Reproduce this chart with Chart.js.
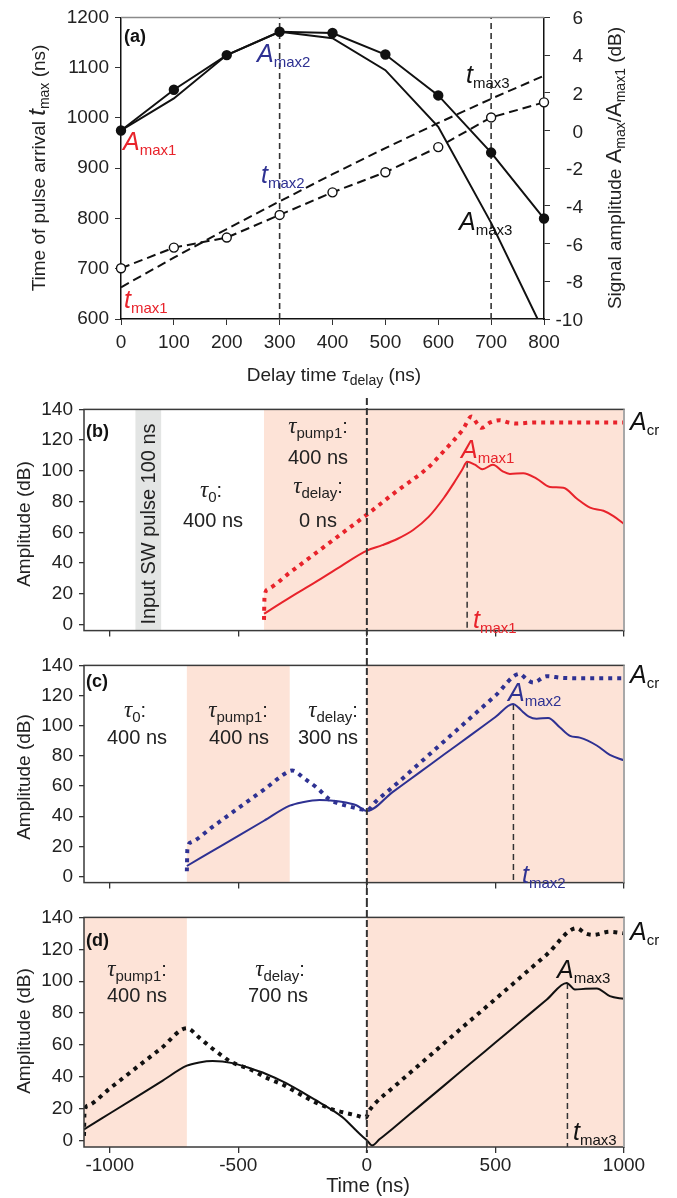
<!DOCTYPE html>
<html>
<head>
<meta charset="utf-8">
<script src="https://cdn.jsdelivr.net/npm/chart.js@4.4.0/dist/chart.umd.min.js"></script>
<style>
  body { margin: 0; background: #fff; width: 677px; height: 1198px; position: relative; overflow: hidden; }
  canvas { position: absolute; left: 0; }
</style>
</head>
<body>
<canvas id="chartA" style="top:0px" width="677" height="392"></canvas>
<canvas id="chartB" style="top:392px" width="677" height="256"></canvas>
<canvas id="chartC" style="top:648px" width="677" height="252"></canvas>
<canvas id="chartD" style="top:900px" width="677" height="298"></canvas>
<script>
// ---- panel (a): delay sweep ----
const delayNs = [0, 100, 200, 300, 400, 500, 600, 700, 800];
const tmaxMeasured = [701, 742, 762, 807, 852, 892, 942, 1001, 1031];
const tmaxFit = [663, 722, 779, 834, 888, 940, 990, 1038, 1084];
const ampMeasured = [0, 2.16, 4.0, 5.24, 5.17, 4.03, 1.86, -1.17, -4.67];
const ampSimulated = [0, 1.7, 4.0, 5.24, 4.9, 3.2, 0.2, -4.9, -10.7];
const delayMarks = [300, 700];
const delayTicks = [0, 100, 200, 300, 400, 500, 600, 700, 800];
const tmaxTicks = [600, 700, 800, 900, 1000, 1100, 1200];
const ratioTicks = [-10, -8, -6, -4, -2, 0, 2, 4, 6];

// ---- panels (b)-(d): time traces ----
const timeTicks = [-1000, -500, 0, 500, 1000];
const ampTicks = [0, 20, 40, 60, 80, 100, 120, 140];

const tSolidB = [-400, -300, -200, -100, 0, 60, 120, 180, 240, 300, 340, 370, 390, 420, 450, 490, 530, 556, 608, 660, 712, 764, 816, 868, 920, 959, 1000];
const aSolidB = [7, 17.5, 27.5, 38, 48, 51.6, 55.8, 61.5, 70, 82.5, 92.5, 100.5, 106, 104, 101, 104, 99.5, 98, 98.5, 95, 89.5, 89, 82, 76, 74, 70.5, 65.5];
const tDotB = [-400, -398, -385, -300, -200, -100, 0, 114, 244, 300, 374, 407, 428, 446, 480, 517, 550, 582, 650, 750, 850, 1000];
const aDotB = [3, 18, 23, 33.7, 46.3, 58.9, 71.5, 86.5, 103, 113, 127, 135.4, 131, 128, 131.5, 133, 131.5, 130.8, 131.5, 131.5, 131.5, 131.5];

const tSolidC = [-700, -600, -500, -400, -300, -250, -184, -150, -106, -41, 0, 100, 200, 300, 400, 500, 569, 590, 608, 630, 660, 705, 750, 790, 828, 894, 945, 1000];
const aSolidC = [7, 17, 27, 37, 47, 49.3, 50.8, 50.5, 49.8, 47.3, 43.5, 56, 68.4, 80.9, 93.3, 105.8, 114.4, 112, 109, 106, 104.6, 105.2, 99, 93.3, 92.1, 86.9, 80.6, 77];
const tDotC = [-700, -698, -684, -600, -500, -400, -300, -290, -243, -191, -148, -119, -80, -28, 0, 36, 100, 200, 300, 400, 500, 595, 620, 647, 699, 764, 850, 1000];
const aDotC = [3.5, 18, 22.7, 33, 45.4, 57.7, 70, 70.3, 65, 58.4, 51.5, 49, 47, 44.8, 44, 50, 59.2, 74.4, 89.6, 104.8, 120, 134.4, 131, 128.6, 132.8, 131.7, 131.5, 131.5];

const tSolidD = [-1100, -1000, -900, -800, -700, -652, -600, -522, -457, -392, -326, -262, -200, -132, -90, -55, -20, 0, 20, 49, 100, 200, 300, 400, 500, 600, 700, 777, 809, 850, 894, 945, 1000];
const aSolidD = [7, 17, 27, 37, 47, 49, 49.9, 48.6, 45.5, 41.8, 37, 31.4, 25.5, 18.9, 14, 8.5, 3, 0.2, -3, 0.8, 7.5, 21, 34.5, 48, 61.5, 75, 88.5, 98.9, 94.8, 95.2, 95.4, 90.6, 88.9];
const tDotD = [-1100, -1098, -1085, -1000, -900, -800, -700, -652, -606, -561, -530, -500, -457, -392, -326, -262, -200, -132, -94, -41, -5, 10, 36, 100, 200, 300, 400, 500, 600, 700, 816, 850, 880, 945, 1000];
const aDotD = [3, 18, 22, 32.7, 45.3, 57.9, 70.5, 64.6, 58.4, 53, 49.5, 47.5, 44.9, 39.5, 35, 29.3, 24, 19.5, 17.8, 15.8, 14.3, 18.9, 24, 33, 47, 61, 75, 88.8, 102.8, 116.8, 133.2, 130, 129, 131, 130];

const peakB = [390, 106], peakC = [570, 114.4], peakD = [780, 98.9];

const RED = '#e8232b', BLUE = '#2e3192', INK = '#111', PINK = '#fde3d7', GREY = '#e3e5e4';
const FAM = "'Liberation Sans', Arial, sans-serif";
const SERIF = "'Liberation Serif', 'DejaVu Serif', serif";

function toXY(xs, ys) { return xs.map((x, i) => ({ x: x, y: ys[i] })); }

// draw a run of text pieces: [text, font, dy]
function rich(ctx, x, y, parts, color, align) {
  ctx.save();
  ctx.fillStyle = color;
  ctx.textBaseline = 'alphabetic';
  ctx.textAlign = 'left';
  let w = 0;
  parts.forEach(p => { ctx.font = p[1]; w += ctx.measureText(p[0]).width; });
  let cx = align === 'center' ? x - w / 2 : (align === 'right' ? x - w : x);
  parts.forEach(p => {
    ctx.font = p[1];
    ctx.fillText(p[0], cx, y + (p[2] || 0));
    cx += ctx.measureText(p[0]).width;
  });
  ctx.restore();
}
function richRot(ctx, cx, cy, parts, color) {
  ctx.save();
  ctx.translate(cx, cy);
  ctx.rotate(-Math.PI / 2);
  rich(ctx, 0, 7, parts, color, 'center');
  ctx.restore();
}
const sym = (m, s) => [[m, 'italic 25px ' + FAM], [s, '15px ' + FAM, 5]];
const tau = (s) => [['τ', 'italic 23px ' + SERIF], [s, '15px ' + FAM, 5], [':', '20px ' + FAM]];
const plain = (t) => [[t, '20px ' + FAM]];

const tickFont = { family: FAM, size: 19 };

// ---------------- panel (a) ----------------
const decoA = {
  id: 'decoA',
  afterDatasetsDraw(chart) {
    const { ctx, chartArea: a, scales: { y2 } } = chart;
    ctx.save();
    ctx.strokeStyle = '#8a8a8a';
    ctx.lineWidth = 1.5;
    ctx.beginPath(); ctx.moveTo(a.left, a.top); ctx.lineTo(a.right, a.top); ctx.stroke();
    ctx.restore();
    // right-hand tick labels, right aligned like the original
    ratioTicks.forEach(v => {
      rich(ctx, 583, y2.getPixelForValue(v) + 7, [[String(v), '19px ' + FAM]], '#222', 'right');
    });
    rich(ctx, 124, 42, [['(a)', 'bold 18px ' + FAM]], INK);
    rich(ctx, 123, 150, sym('A', 'max1'), RED);
    rich(ctx, 257, 62, sym('A', 'max2'), BLUE);
    rich(ctx, 261, 183, sym('t', 'max2'), BLUE);
    rich(ctx, 466, 83, sym('t', 'max3'), INK);
    rich(ctx, 459, 230, sym('A', 'max3'), INK);
    rich(ctx, 124, 308, sym('t', 'max1'), RED);
    richRot(ctx, 38, 168, [['Time of pulse arrival ', '19px ' + FAM], ['t', 'italic 24px ' + FAM], ['max', '14px ' + FAM, 4], [' (ns)', '19px ' + FAM]], '#222');
    richRot(ctx, 614, 168, [['Signal amplitude ', '19px ' + FAM], ['A', '22px ' + FAM], ['max', '14px ' + FAM, 4], ['/', '19px ' + FAM], ['A', '22px ' + FAM], ['max1', '14px ' + FAM, 4], [' (dB)', '19px ' + FAM]], '#222');
    rich(ctx, 334, 381, [['Delay time ', '19px ' + FAM], ['τ', 'italic 22px ' + SERIF], ['delay', '14px ' + FAM, 4], [' (ns)', '19px ' + FAM]], '#222', 'center');
  }
};

new Chart(document.getElementById('chartA'), {
  type: 'line',
  data: {
    datasets: [
      { data: toXY(delayNs, ampSimulated), yAxisID: 'y2', borderColor: INK, borderWidth: 2, pointRadius: 0, clip: 0 },
      { data: toXY(delayNs, ampMeasured), yAxisID: 'y2', borderColor: INK, borderWidth: 2, pointRadius: 4.2, pointBackgroundColor: INK, pointBorderColor: INK, clip: false },
      { data: toXY(delayNs, tmaxFit), yAxisID: 'y', borderColor: INK, borderWidth: 2, borderDash: [9, 5], pointRadius: 0 },
      { data: toXY(delayNs, tmaxMeasured), yAxisID: 'y', borderColor: INK, borderWidth: 2, borderDash: [9, 5], pointRadius: 4.5, pointBackgroundColor: '#fff', pointBorderColor: INK, pointBorderWidth: 1.4, clip: false },
      ...delayMarks.map(d => ({ data: [{ x: d, y: 600 }, { x: d, y: 1200 }], yAxisID: 'y', borderColor: '#333', borderWidth: 1.6, borderDash: [6, 4], pointRadius: 0 }))
    ]
  },
  options: {
    responsive: false,
    animation: false,
    layout: { padding: { top: 17, left: 0, right: 0, bottom: 0 } },
    plugins: { legend: { display: false }, tooltip: { enabled: false } },
    scales: {
      x: {
        type: 'linear', min: 0, max: 800,
        afterBuildTicks: s => { s.ticks = delayTicks.map(v => ({ value: v })); },
        afterFit: s => { s.height = 73; },
        grid: { drawOnChartArea: false, drawTicks: true, tickLength: 6, color: '#333' },
        border: { display: true, color: INK, width: 1.5 },
        ticks: { font: tickFont, color: '#222', padding: 6, autoSkip: false, maxRotation: 0, callback: v => String(v) }
      },
      y: {
        position: 'left', min: 600, max: 1200,
        afterBuildTicks: s => { s.ticks = tmaxTicks.map(v => ({ value: v })); },
        afterFit: s => { s.width = 121; },
        grid: { drawOnChartArea: false, drawTicks: true, tickLength: 6, color: '#333' },
        border: { display: true, color: INK, width: 1.5 },
        ticks: { font: tickFont, color: '#222', padding: 6, callback: v => String(v) }
      },
      y2: {
        position: 'right', min: -10, max: 6,
        afterBuildTicks: s => { s.ticks = ratioTicks.map(v => ({ value: v })); },
        afterFit: s => { s.width = 133; },
        grid: { drawOnChartArea: false, drawTicks: true, tickLength: 6, color: '#333' },
        border: { display: true, color: INK, width: 1.5 },
        ticks: { display: false }
      }
    }
  },
  plugins: [decoA]
});

// ---------------- panels (b)-(d) ----------------
function makeDeco(id, shades, texts, zeroTop, zeroBottom) {
  return {
    id: id,
    beforeDraw(chart) {
      const { ctx, chartArea: a, scales: { x } } = chart;
      ctx.save();
      shades.forEach(s => {
        const x0 = x.getPixelForValue(s[0]), x1 = x.getPixelForValue(s[1]);
        ctx.fillStyle = s[2];
        ctx.fillRect(x0, a.top, x1 - x0, a.bottom - a.top);
      });
      ctx.restore();
    },
    afterDatasetsDraw(chart) {
      const { ctx, chartArea: a, scales: { x } } = chart;
      ctx.save();
      ctx.strokeStyle = '#3a3a3a';
      ctx.lineWidth = 1.5;
      ctx.strokeRect(a.left, a.top, a.right - a.left, a.bottom - a.top);
      ctx.strokeStyle = '#a8a8a8';
      ctx.lineWidth = 2;
      ctx.beginPath(); ctx.moveTo(a.right, a.top); ctx.lineTo(a.right, a.bottom); ctx.stroke();
      // common t = 0 marker running through the stacked panels
      const x0 = x.getPixelForValue(0);
      ctx.strokeStyle = '#333';
      ctx.lineWidth = 2;
      ctx.setLineDash([7, 3]);
      ctx.beginPath(); ctx.moveTo(x0, zeroTop); ctx.lineTo(x0, zeroBottom); ctx.stroke();
      ctx.restore();
      texts.forEach(t => {
        if (t.rot) richRot(ctx, t.x, t.y, t.parts, t.color);
        else rich(ctx, t.x, t.y, t.parts, t.color, t.align);
      });
    }
  };
}

function panel(canvasId, color, solidT, solidA, dotT, dotA, peak, padTop, xHeight, showX, deco) {
  new Chart(document.getElementById(canvasId), {
    type: 'line',
    data: {
      datasets: [
        { data: toXY(dotT, dotA), borderColor: color, borderWidth: 4, borderDash: [4, 5], borderCapStyle: 'butt', pointRadius: 0, cubicInterpolationMode: 'monotone' },
        { data: toXY(solidT, solidA), borderColor: color, borderWidth: 2, pointRadius: 0, cubicInterpolationMode: 'monotone' },
        { data: [{ x: peak[0], y: peak[1] }, { x: peak[0], y: -4 }], borderColor: '#333', borderWidth: 1.5, borderDash: [6, 4], pointRadius: 0 }
      ]
    },
    options: {
      responsive: false,
      animation: false,
      layout: { padding: { top: padTop, left: 0, right: 53, bottom: 0 } },
      plugins: { legend: { display: false }, tooltip: { enabled: false } },
      scales: {
        x: {
          type: 'linear', min: -1100, max: 1000,
          afterBuildTicks: s => { s.ticks = timeTicks.map(v => ({ value: v })); },
          afterFit: s => { s.height = xHeight; },
          grid: { drawOnChartArea: false, drawTicks: true, tickLength: 6, color: '#333', lineWidth: 1.3 },
          border: { display: false },
          ticks: { display: showX, font: tickFont, color: '#222', padding: 1, autoSkip: false, maxRotation: 0, callback: v => String(v) }
        },
        y: {
          min: -4, max: 140,
          afterBuildTicks: s => { s.ticks = ampTicks.map(v => ({ value: v })); },
          afterFit: s => { s.width = 84; },
          grid: { drawOnChartArea: false, drawTicks: true, tickLength: 5, color: '#333', lineWidth: 1.3 },
          border: { display: false },
          ticks: { font: tickFont, color: '#222', padding: 6, callback: v => String(v) }
        }
      }
    },
    plugins: [deco]
  });
}

const ampTitle = (cy) => ({ rot: true, x: 23, y: cy, parts: [['Amplitude (dB)', '19px ' + FAM]], color: '#222' });
const acr = (y) => ({ x: 630, y: y, parts: [['A', 'italic 25px ' + FAM], ['cr', '15px ' + FAM, 5]], color: INK });

panel('chartB', RED, tSolidB, aSolidB, tDotB, aDotB, peakB, 17, 8, false,
  makeDeco('decoB', [[-900, -800, GREY], [-400, 1000, PINK]], [
    { x: 86, y: 45, parts: [['(b)', 'bold 18px ' + FAM]], color: INK },
    { rot: true, x: 147.5, y: 132, parts: plain('Input SW pulse 100 ns'), color: '#222' },
    { x: 211, y: 105, parts: tau('0'), color: '#222', align: 'center' },
    { x: 213, y: 135, parts: plain('400 ns'), color: '#222', align: 'center' },
    { x: 318, y: 41, parts: tau('pump1'), color: '#222', align: 'center' },
    { x: 318, y: 72, parts: plain('400 ns'), color: '#222', align: 'center' },
    { x: 318, y: 101, parts: tau('delay'), color: '#222', align: 'center' },
    { x: 318, y: 135, parts: plain('0 ns'), color: '#222', align: 'center' },
    acr(38),
    { x: 461, y: 66, parts: sym('A', 'max1'), color: RED },
    { x: 473, y: 236, parts: sym('t', 'max1'), color: RED },
    ampTitle(132)
  ], 6, 256));

panel('chartC', BLUE, tSolidC, aSolidC, tDotC, aDotC, peakC, 14, 8, false,
  makeDeco('decoC', [[-700, -300, PINK], [0, 1000, PINK]], [
    { x: 86, y: 39, parts: [['(c)', 'bold 18px ' + FAM]], color: INK },
    { x: 135, y: 69, parts: tau('0'), color: '#222', align: 'center' },
    { x: 137, y: 96, parts: plain('400 ns'), color: '#222', align: 'center' },
    { x: 238, y: 69, parts: tau('pump1'), color: '#222', align: 'center' },
    { x: 239, y: 96, parts: plain('400 ns'), color: '#222', align: 'center' },
    { x: 333, y: 69, parts: tau('delay'), color: '#222', align: 'center' },
    { x: 328, y: 96, parts: plain('300 ns'), color: '#222', align: 'center' },
    acr(35),
    { x: 508, y: 53, parts: sym('A', 'max2'), color: BLUE },
    { x: 522, y: 235, parts: sym('t', 'max2'), color: BLUE },
    ampTitle(129)
  ], 0, 252));

panel('chartD', INK, tSolidD, aSolidD, tDotD, aDotD, peakD, 16, 51, true,
  makeDeco('decoD', [[-1100, -700, PINK], [0, 1000, PINK]], [
    { x: 86, y: 46, parts: [['(d)', 'bold 18px ' + FAM]], color: INK },
    { x: 137, y: 76, parts: tau('pump1'), color: '#222', align: 'center' },
    { x: 137, y: 102, parts: plain('400 ns'), color: '#222', align: 'center' },
    { x: 280, y: 76, parts: tau('delay'), color: '#222', align: 'center' },
    { x: 278, y: 102, parts: plain('700 ns'), color: '#222', align: 'center' },
    acr(40),
    { x: 557, y: 78, parts: sym('A', 'max3'), color: INK },
    { x: 573, y: 240, parts: sym('t', 'max3'), color: INK },
    { x: 368, y: 1192 - 900, parts: plain('Time (ns)'), color: '#222', align: 'center' },
    ampTitle(131)
  ], 0, 253));
</script>
</body>
</html>
